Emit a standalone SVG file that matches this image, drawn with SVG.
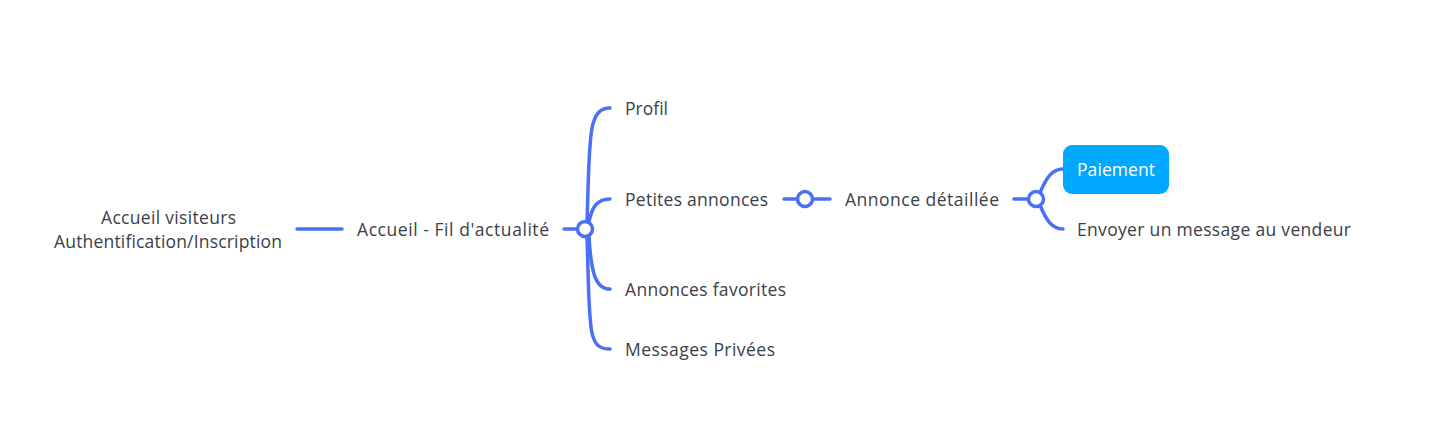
<svg xmlns="http://www.w3.org/2000/svg" width="1442" height="440" viewBox="0 0 1442 440">
<style>
.t{font-family:"Open Sans","Noto Sans",sans-serif;font-size:17.5px;fill:#3b4048;dominant-baseline:central;font-variant-ligatures:none}
.c{fill:none;stroke:#4a70f6;stroke-width:3.5;stroke-linecap:round}
.k{fill:#fff;stroke:#4a70f6;stroke-width:3.5}
</style>
<rect width="1442" height="440" fill="#fff"/>
<g id="connectors">
<path class="c" d="M297,229 H342"/>
<path class="c" d="M564,229 H578"/>
<path class="c" d="M587,222 C590,140 587,108 610,108"/>
<path class="c" d="M589,222 C592,206 598,199 610,199"/>
<path class="c" d="M589,236 C591,274 596,289 610,289"/>
<path class="c" d="M587,236 C590,330 587,349 610,349"/>
<circle class="k" cx="585" cy="229" r="7.5"/>
<path class="c" d="M784,199 H798 M812,199 H830"/>
<circle class="k" cx="805" cy="199" r="7.5"/>
<path class="c" d="M1014,199 H1029"/>
<path class="c" d="M1040,193 C1046,178 1052,169 1063,169"/>
<path class="c" d="M1040,205 C1046,220 1052,229 1063,229"/>
<circle class="k" cx="1036" cy="199" r="7.5"/>
</g>
<g id="root"><text class="t" x="101" y="217" textLength="135" lengthAdjust="spacing">Accueil visiteurs</text><text class="t" x="54" y="241" textLength="228" lengthAdjust="spacing">Authentification/Inscription</text></g>
<g id="accueil"><text class="t" x="357" y="229" textLength="192" lengthAdjust="spacing">Accueil - Fil d'actualité</text></g>
<g id="profil"><text class="t" x="625" y="108" textLength="43" lengthAdjust="spacing">Profil</text></g>
<g id="petites"><text class="t" x="625" y="199" textLength="143" lengthAdjust="spacing">Petites annonces</text></g>
<g id="favorites"><text class="t" x="625" y="289" textLength="161" lengthAdjust="spacing">Annonces favorites</text></g>
<g id="messages"><text class="t" x="625" y="349" textLength="150" lengthAdjust="spacing">Messages Privées</text></g>
<g id="detail"><text class="t" x="845" y="199" textLength="154" lengthAdjust="spacing">Annonce détaillée</text></g>
<g id="paiement"><rect x="1063" y="145" width="106" height="49" rx="9" fill="#00a9ff"/><text class="t" x="1077" y="169" style="fill:#fff" textLength="78" lengthAdjust="spacing">Paiement</text></g>
<g id="envoyer"><text class="t" x="1077" y="229" textLength="274" lengthAdjust="spacing">Envoyer un message au vendeur</text></g>
</svg>
